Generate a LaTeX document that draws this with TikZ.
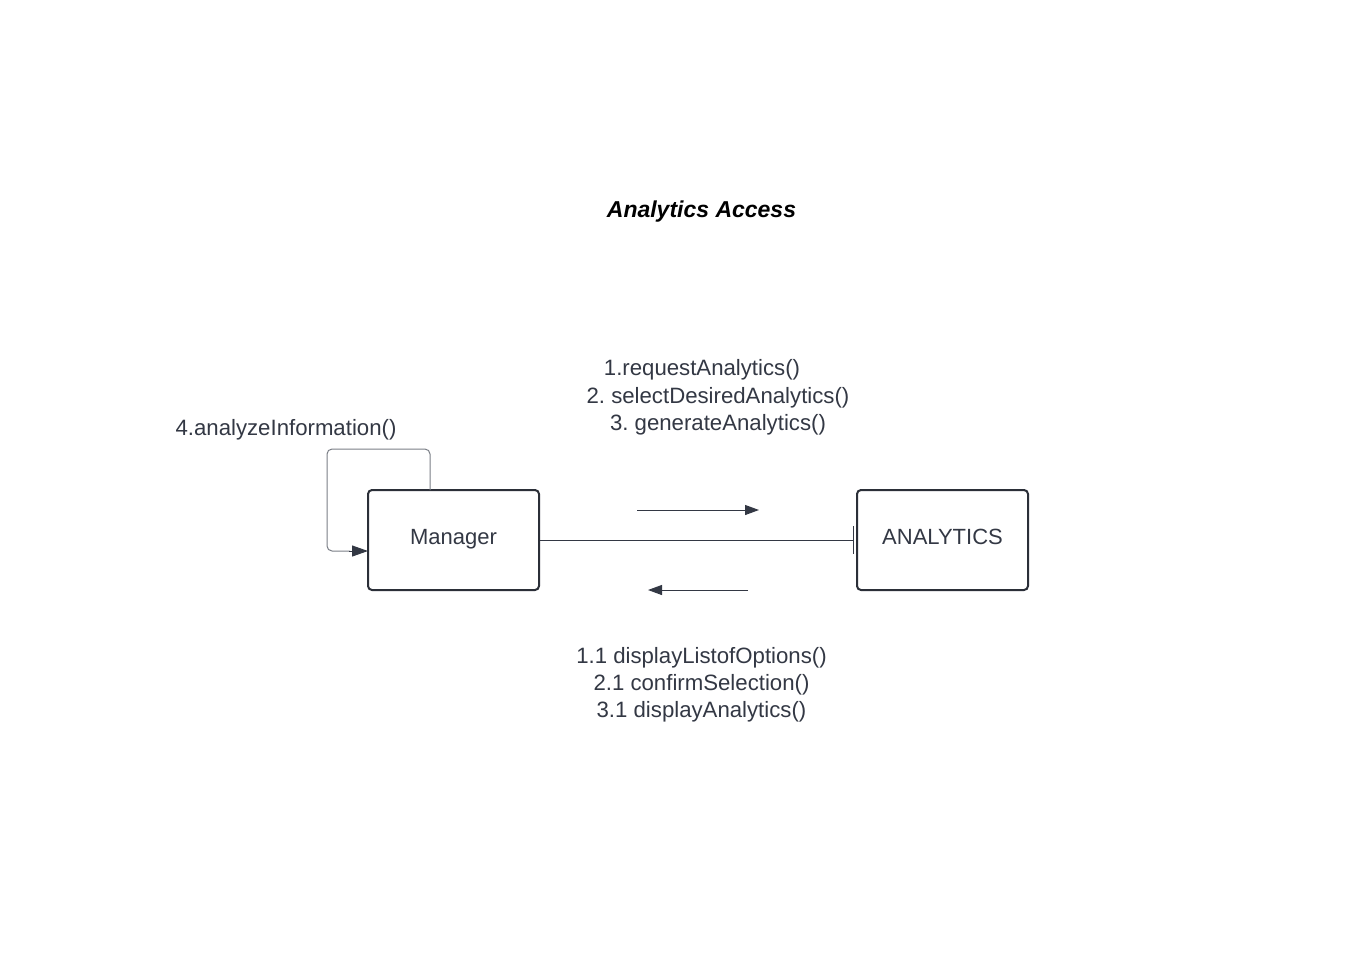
\documentclass[tikz,border=0pt]{standalone}
\usepackage{fontspec}
\setmainfont{Liberation Sans}
\usetikzlibrary{arrows.meta}
\frenchspacing
\definecolor{ink}{HTML}{333844}
\definecolor{boxline}{HTML}{2B2F38}
\definecolor{loopline}{HTML}{7A7E86}
\begin{document}
\begin{tikzpicture}[x=1pt,y=-1pt,
  objbox/.style={draw=boxline,line width=2pt,rounded corners=4pt,minimum width=171pt,minimum height=100pt,inner sep=0pt,text=ink,font=\fontsize{22}{26}\selectfont,text height=16pt,text depth=8pt},
  lbl/.style={text=ink,font=\fontsize{22.2}{26.8}\selectfont\frenchspacing,inner sep=0pt},
  msg/.style={draw=ink,line width=1pt,-{Triangle[length=14pt,width=10pt]}},
]
\useasboundingbox[fill=white] (0,0) rectangle (1354,959);
\node[inner sep=0pt,font=\fontsize{23}{27}\selectfont\bfseries\itshape] (title) at (701.5,212) {Analytics Access};

\node[objbox] (mgr) at (453.5,540) {Manager};
\node[objbox] (ana) at (942.5,540) {ANALYTICS};

% association
\draw[ink,line width=1pt,-{Bar[width=28pt,line width=1pt]},shorten >=2pt] (mgr.east) -- (ana.west);

% message arrows
\coordinate (f1) at (637,510);
\coordinate (f2) at (759,510);
\coordinate (b1) at (748,590);
\coordinate (b2) at (648,590);
\draw[msg] (f1) -- (f2);
\draw[msg] (b1) -- (b2);

% self loop
\coordinate (ls) at (430,490);
\coordinate (le) at (368,551);
\draw[loopline,line width=1pt,rounded corners=5pt] (ls) -- (430,449) -- (327,449) -- (327,551) -- (350,551);
\draw[ink,line width=1pt,-{Triangle[length=16pt,width=11pt]}] (349,551) -- (le);

\node[lbl] (l4) at (286,430) {4.analyzeInformation()};
\node[lbl] (t1) at (702,370) {1.requestAnalytics()};
\node[lbl] (t2) at (718,398) {2. selectDesiredAnalytics()};
\node[lbl] (t3) at (718,425) {3. generateAnalytics()};
\node[lbl,align=center] (bot) at (701.5,684.5) {1.1 displayListofOptions()\\2.1 confirmSelection()\\3.1 displayAnalytics()};
\end{tikzpicture}
\end{document}
